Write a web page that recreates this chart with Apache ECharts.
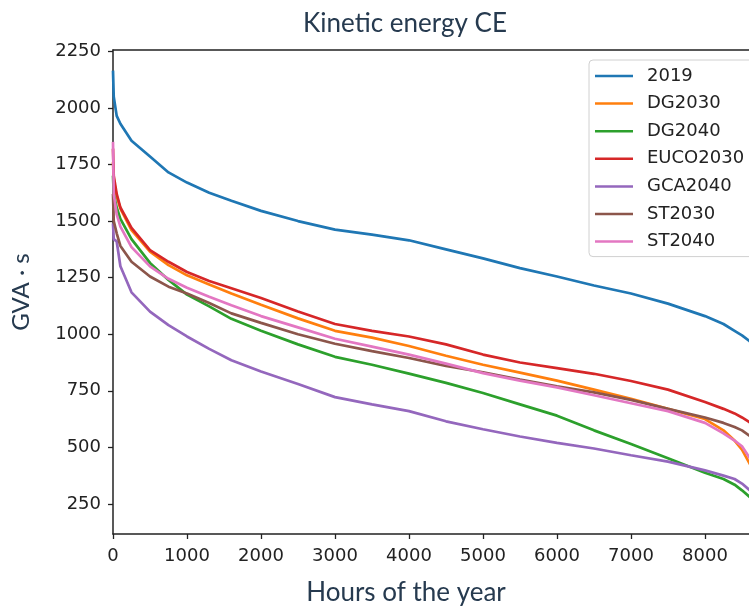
<!DOCTYPE html>
<html>
	<head>
		<meta charset="UTF-8">
		<title>Kinetic energy CE</title>
		<style>
			html, body { margin: 0; padding: 0; background: #fff; }
		</style>
	</head>
	<body>
		<div id="chart1" style="width: 749px;height: 608px;"></div>
		<script src="https://cdn.jsdelivr.net/npm/echarts@6/dist/echarts.min.js"></script>
		<script type="text/javascript">
			// hours of the year (sorted duration curve)
			var hours = [0, 10, 50, 100, 250, 500, 750, 1000, 1300, 1600, 2000, 2500, 3000, 3500, 4000,
				4500, 5000, 5500, 6000, 6500, 7000, 7500, 8000, 8250, 8400, 8500, 8600, 8700, 8760];

			var names = ['2019', 'DG2030', 'DG2040', 'EUCO2030', 'GCA2040', 'ST2030', 'ST2040'];
			var colors = ['#1f77b4', '#ff7f0e', '#2ca02c', '#d62728', '#9467bd', '#8c564b', '#e377c2'];

			var v2019 = [2165, 2050, 1965, 1930, 1855, 1785, 1715, 1670, 1625, 1590, 1545, 1500, 1462, 1440, 1415,
				1375, 1335, 1292, 1255, 1215, 1180, 1135, 1080, 1045, 1015, 995, 970, 940, 900];
			var vDG2030 = [1760, 1680, 1610, 1555, 1460, 1365, 1305, 1260, 1220, 1180, 1130, 1070, 1015, 985, 948,
				905, 865, 830, 795, 755, 715, 670, 625, 575, 530, 490, 430, 370, 320];
			var vDG2040 = [1700, 1620, 1560, 1510, 1420, 1315, 1240, 1175, 1123, 1068, 1015, 955, 900, 865, 826,
				785, 740, 690, 640, 575, 515, 452, 388, 360, 335, 310, 282, 250, 220];
			var vEUCO2030 = [1820, 1700, 1620, 1560, 1470, 1372, 1320, 1275, 1235, 1203, 1160, 1100, 1045, 1015, 990,
				955, 910, 875, 850, 825, 793, 755, 700, 670, 650, 632, 612, 570, 520];
			var vGCA2040 = [1490, 1420, 1410, 1300, 1185, 1100, 1040, 990, 935, 885, 835, 780, 722, 690, 660,
				615, 580, 548, 520, 495, 465, 437, 398, 375, 360, 340, 312, 280, 250];
			var vST2030 = [1620, 1500, 1446, 1390, 1320, 1255, 1210, 1180, 1138, 1092, 1050, 1000, 958, 925, 895,
				860, 832, 800, 770, 743, 710, 670, 632, 608, 590, 575, 552, 520, 480];
			var vST2040 = [1850, 1620, 1530, 1475, 1385, 1300, 1245, 1205, 1166, 1128, 1080, 1030, 980, 945, 910,
				870, 828, 795, 765, 730, 695, 660, 608, 562, 530, 505, 455, 400, 350];

			var yTicks = [250, 500, 750, 1000, 1250, 1500, 1750, 2000, 2250];
			var xTicks = [0, 1000, 2000, 3000, 4000, 5000, 6000, 7000, 8000];

			var allValues = [v2019, vDG2030, vDG2040, vEUCO2030, vGCA2040, vST2030, vST2040];

			function pairs(vals) {
				var out = [];
				for (var i = 0; i < hours.length; i++) {
					out.push([hours[i], vals[i]]);
				}
				return out;
			}

			var series = [];
			for (var s = 0; s < names.length; s++) {
				series.push({
					name: names[s],
					type: 'line',
					data: pairs(allValues[s]),
					showSymbol: false,
					symbol: 'none',
					clip: true,
					lineStyle: { width: 2.7, color: colors[s] },
					itemStyle: { color: colors[s] }
				});
			}

			var labelFont = 'DejaVu Sans';
			var textColor = '#263a4f';
			var plain = function(v) { return String(v); };

			var my_echarts = echarts.init(document.getElementById('chart1'));
			var option = {
				backgroundColor: '#fff',
				animation: false,
				title: [{
					text: 'Kinetic energy CE',
					left: 400,
					top: 6,
					textAlign: 'center',
					textStyle: { fontFamily: 'Lato', fontSize: 26, fontWeight: 'normal', color: textColor }
				}, {
					text: 'Hours of the year',
					left: 401,
					top: 575,
					textAlign: 'center',
					textStyle: { fontFamily: 'Lato', fontSize: 26, fontWeight: 'normal', color: textColor }
				}],
				legend: {
					data: names,
					orient: 'vertical',
					left: 589,
					top: 60,
					icon: 'rect',
					itemWidth: 38,
					itemHeight: 2.5,
					itemGap: 7.6,
					padding: [6, 12, 5, 6],
					backgroundColor: '#fff',
					borderColor: '#d0d0d0',
					borderWidth: 1,
					borderRadius: 4,
					textStyle: {
						fontFamily: labelFont,
						fontSize: 18,
						color: '#222',
						lineHeight: 20,
						padding: [0, 0, 0, 9]
					}
				},
				grid: {
					left: 113,
					top: 50,
					right: 0,
					bottom: 74,
					containLabel: false
				},
				xAxis: [{
					type: 'value',
					min: 0,
					max: 8595,
					splitLine: { show: false },
					axisLine: { show: true, lineStyle: { color: '#222', width: 1.5 } },
					axisTick: { show: true, length: 5, lineStyle: { color: '#222', width: 1.3 }, customValues: xTicks },
					axisLabel: {
						customValues: xTicks,
						formatter: plain,
						margin: 13,
						fontFamily: labelFont,
						fontSize: 18,
						color: '#222'
					}
				}, {
					// top spine only
					type: 'value',
					position: 'top',
					min: 0,
					max: 8595,
					splitLine: { show: false },
					axisLine: { show: true, lineStyle: { color: '#222', width: 1.5 } },
					axisTick: { show: false },
					axisLabel: { show: false }
				}],
				yAxis: {
					type: 'value',
					min: 117,
					max: 2256,
					name: 'GVA · s',
					nameLocation: 'middle',
					nameGap: 80,
					nameTextStyle: { fontFamily: 'Lato', fontSize: 24, color: textColor },
					splitLine: { show: false },
					axisLine: { show: true, lineStyle: { color: '#222', width: 1.5 } },
					axisTick: { show: true, length: 5, lineStyle: { color: '#222', width: 1.3 }, customValues: yTicks },
					axisLabel: {
						customValues: yTicks,
						formatter: plain,
						margin: 12,
						fontFamily: labelFont,
						fontSize: 18,
						color: '#222'
					}
				},
				series: series
			};
			my_echarts.setOption(option);
		</script>
	</body>
</html>
